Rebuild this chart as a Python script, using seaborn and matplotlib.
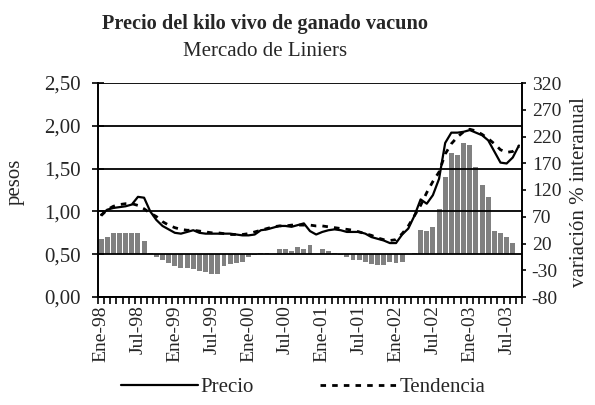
import numpy as np
import pandas as pd
import matplotlib
matplotlib.use("Agg")
import matplotlib.pyplot as plt
import seaborn as sns
from matplotlib.ticker import FixedLocator
from matplotlib.lines import Line2D

# monthly data, Ene-98 .. Sep-03
meses = ["Ene", "Feb", "Mar", "Abr", "May", "Jun", "Jul", "Ago", "Sep", "Oct", "Nov", "Dic"]
periodos = [f"{m}-{a:02d}" for a in [98, 99, 0, 1, 2, 3] for m in meses][:69]

precio = [0.96, 1.02, 1.04, 1.05, 1.06, 1.08, 1.17, 1.16, 1.00, 0.90, 0.83, 0.79,
          0.75, 0.74, 0.76, 0.78, 0.75, 0.74, 0.74, 0.74, 0.74, 0.74, 0.73, 0.72,
          0.72, 0.73, 0.78, 0.79, 0.81, 0.83, 0.83, 0.82, 0.84, 0.86, 0.77, 0.73,
          0.76, 0.78, 0.79, 0.78, 0.76, 0.76, 0.76, 0.74, 0.70, 0.68, 0.66, 0.63,
          0.63, 0.73, 0.80, 0.95, 1.14, 1.09, 1.19, 1.38, 1.80, 1.92, 1.92, 1.93,
          1.95, 1.92, 1.89, 1.83, 1.70, 1.57, 1.56, 1.63, 1.77]

tendencia = [0.95, 1.02, 1.06, 1.08, 1.09, 1.09, 1.07, 1.03, 0.98, 0.94, 0.88, 0.84,
             0.81, 0.79, 0.78, 0.78, 0.77, 0.76, 0.75, 0.75, 0.74, 0.73, 0.73, 0.73,
             0.74, 0.76, 0.78, 0.80, 0.82, 0.83, 0.83, 0.84, 0.84, 0.84, 0.84, 0.83,
             0.83, 0.82, 0.81, 0.80, 0.79, 0.78, 0.76, 0.74, 0.72, 0.69, 0.67, 0.66,
             0.67, 0.74, 0.83, 0.95, 1.07, 1.22, 1.35, 1.46, 1.67, 1.79, 1.87, 1.93,
             1.96, 1.94, 1.90, 1.85, 1.79, 1.72, 1.69, 1.70, 1.76]

variacion = [28, 33, 40, 40, 40, 40, 40, 25, 3, -6, -11, -17,
             -22, -25, -25, -27, -31, -33, -37, -37, -22, -18, -17, -14,
             -6, -1, 2, 2, 0, 9, 9, 6, 13, 9, 17, 0,
             9, 6, 2, -1, -6, -11, -11, -14, -18, -21, -21, -14,
             -17, -14, 0, 3, 46, 43, 51, 84, 145, 189, 185, 208,
             204, 163, 129, 107, 43, 39, 32, 21, np.nan]

yticks_izq = [0.0, 0.5, 1.0, 1.5, 2.0, 2.5]
yticklabels_izq = ["0,00", "0,50", "1,00", "1,50", "2,00", "2,50"]
yticks_der = [-80, -30, 20, 70, 120, 170, 220, 270, 320]

df = pd.DataFrame({"mes": range(len(periodos)), "periodo": periodos,
                   "precio": precio, "tendencia": tendencia, "variacion": variacion})

sns.set_theme(style="white")
plt.rcParams["font.family"] = ["Liberation Serif", "DejaVu Serif"]

fig = plt.figure(figsize=(5.95, 4.05), dpi=100)
ax = fig.add_axes([98 / 595, 1 - 297 / 405, 424 / 595, 214 / 405])
ax2 = ax.twinx()

# bars on the secondary axis, kept behind the price lines
sns.barplot(data=df, x="mes", y="variacion", ax=ax2, color="#808080",
            saturation=1, width=0.8, linewidth=0, errorbar=None)
ax.set_zorder(ax2.get_zorder() + 1)
ax.patch.set_visible(False)

sns.lineplot(data=df, x="mes", y="precio", ax=ax, color="black", lw=1.6)
sns.lineplot(data=df, x="mes", y="tendencia", ax=ax, color="black", lw=2.0,
             dashes=False, linestyle=(0, (2, 2.2)))

n = len(periodos)
ax.set_xlim(-0.5, n - 0.5)
ax.set_ylim(0, 2.5)
ax2.set_ylim(-80, 320)

ax.set_yticks(yticks_izq)
ax.set_yticklabels(yticklabels_izq, fontsize=15)
ax2.set_yticks(yticks_der)
ax2.set_yticklabels([str(v) for v in yticks_der], fontsize=14)

etiquetas = list(range(0, n, 6))
ax.xaxis.set_major_locator(FixedLocator(etiquetas))
ax.set_xticklabels([periodos[i] for i in etiquetas], rotation=90, fontsize=14)
ax.xaxis.set_minor_locator(FixedLocator(np.arange(-0.5, n, 1)))
ax.tick_params(axis="x", which="major", length=0, pad=6, bottom=True)
ax.tick_params(axis="x", which="minor", length=5, width=1.2, color="black",
               direction="out", bottom=True)
ax.tick_params(axis="y", length=8, width=1.2, color="black", direction="inout", pad=8.5)
ax2.tick_params(axis="y", length=3, width=1.2, color="black", direction="out", pad=4)

ax.yaxis.grid(True, color="black", lw=1.3)
ax2.grid(False)
ax.set_axisbelow(False)

for a in (ax, ax2):
    a.spines["top"].set_visible(False)
    for s in ("left", "right", "bottom"):
        a.spines[s].set_color("black")
        a.spines[s].set_linewidth(1.4)
ax.spines["right"].set_visible(False)
ax2.spines["left"].set_visible(False)
ax2.spines["bottom"].set_visible(False)

ax.set_xlabel("")
ax.set_ylabel("pesos", fontsize=15)
ax.yaxis.set_label_coords(-0.172, 0.537)
ax2.set_xlabel("")
ax2.set_ylabel("variación % interanual", fontsize=15)
ax2.yaxis.set_label_coords(1.113, 0.49)

fig.text(265 / 595, 1 - 24 / 405, "Precio del kilo vivo de ganado vacuno",
         ha="center", va="center", fontsize=14.6, fontweight="bold")
fig.text(265 / 595, 1 - 51 / 405, "Mercado de Liniers",
         ha="center", va="center", fontsize=15)

handles = [Line2D([], [], color="black", lw=1.6),
           Line2D([], [], color="black", lw=2.0, linestyle=(0, (2, 2.2)))]
fig.legend(handles, ["Precio", "Tendencia"], loc="center", ncol=2,
           bbox_to_anchor=(303 / 595, 1 - 387 / 405), frameon=False,
           fontsize=15, handlelength=3.7, handletextpad=0.1, columnspacing=3.2)

fig.savefig("out.png", dpi=100)
